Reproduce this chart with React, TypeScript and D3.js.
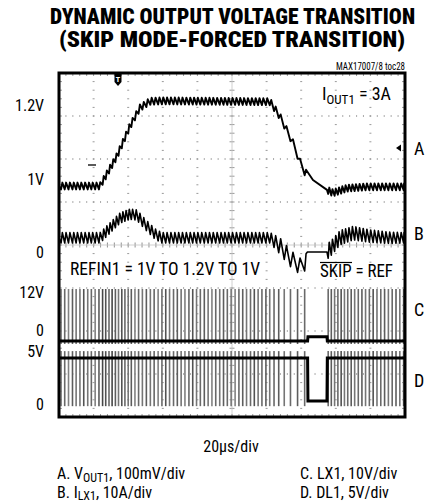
import React from "react";
import * as d3 from "d3";

const NARROW =
  "'Liberation Sans Narrow','Arial Narrow','Roboto Condensed','DejaVu Sans Condensed',sans-serif";

// ---------------- data (read from the scope shot) ----------------
const timeDomainUs = [0, 200]; // 20 µs/div × 10 div

// switching pulse instants (µs)
const pulseTimesUs = [
  1.2, 3.3, 5.5, 7.8, 9.9, 12.1, 14.3, 16.6, 18.7, 20.9, 23.1, 25.2, 27.0, 28.9,
  30.7, 32.6, 34.4, 36.3, 38.1, 40.0, 41.8, 43.9, 46.0, 48.2, 50.5, 52.8, 55.0,
  57.3, 59.5, 61.7, 63.9, 66.2, 68.4, 70.6, 72.8, 75.1, 77.3, 79.5, 81.7, 84.0,
  86.2, 88.4, 90.6, 92.9, 95.1, 97.3, 99.5, 101.8, 104.0, 106.2, 108.4, 110.7,
  112.9, 115.1, 117.3, 119.6, 121.8, 124.3, 127.0, 130.2, 133.8, 137.9, 142.0,
  155.6, 157.4, 159.3, 161.2, 163.1, 165.0, 166.9, 168.9, 170.9, 173.0, 175.1,
  177.2, 179.4, 181.6, 183.8, 186.0, 188.2, 190.4, 192.6, 194.8, 197.0, 199.2,
];
// relative brightness of each pulse line on the screen (0 light … 1 dark)
const pulseShade = [
  0.5, 0.6, 0.4, 0.7, 0.5, 0.5, 0.8, 0.5, 0.6, 0.4, 0.7, 0.9, 0.8, 0.6,
  0.9, 0.7, 0.5, 0.8, 0.6, 0.5, 0.7, 0.4, 0.6, 0.5, 0.7, 0.5, 0.6,
  0.4, 0.6, 0.8, 0.5, 0.6, 0.7, 0.5, 0.4, 0.6, 0.8, 0.5, 0.6, 0.7,
  0.5, 0.4, 0.6, 0.5, 0.7, 0.6, 0.5, 0.4, 0.6, 0.7, 0.5, 0.6,
  0.8, 0.5, 0.6, 0.7, 0.5, 0.6, 0.7, 0.5, 0.6, 0.7, 0.6,
  0.6, 0.7, 0.5, 0.6, 0.8, 0.5, 0.6, 0.7, 0.5, 0.6, 0.7,
  0.5, 0.6, 0.8, 0.5, 0.6, 0.7, 0.5, 0.6, 0.7, 0.5, 0.6,
];

// A: VOUT1 (V)
const voutT = [0, 23.7, 33.4, 41.0, 46.8, 52.6, 60, 122, 127.7, 135.3, 141.0, 146.8, 154.9, 158.4, 166.5, 178, 200];
const voutV = [1.0, 1.0, 1.069, 1.139, 1.182, 1.197, 1.198, 1.196, 1.162, 1.1, 1.037, 1.014, 0.991, 0.984, 0.995, 0.998, 0.998];
const voutRippleV = [0.008];

// B: ILX1 (A)
const ilT = [0, 23.7, 29.5, 35.3, 41.0, 45.0, 49.7, 55.5, 59.5, 122, 127.7, 133.5, 139.3, 142.8, 143.6, 154.9, 158.4, 162.4, 170.0, 179.8, 191.3, 200];
const ilA = [3.3, 3.3, 5.6, 7.9, 8.8, 8.6, 6.5, 4.2, 3.3, 3.3, 1.4, -1.4, -3.3, -2.3, 0, 0, 1.4, 3.3, 4.4, 3.7, 3.3, 3.3];
const ilRippleT = [0, 122, 128, 143, 200];
const ilRippleA = [1.2, 1.2, 1.9, 1.9, 1.2];

// C: LX1 (V) and D: DL1 (V) idle levels
const lxT = [0, 143.7, 143.9, 154.9, 155.1, 200];
const lxV = [0, 0, 1, 1, 0, 0];
const lxPulseHighV = [12.1];
const dlT = [0, 143.7, 143.9, 154.9, 155.1, 200];
const dlV = [5, 5, 0, 0, 5, 5];
const dlPulseLowV = [-0.6];

const triggerTimeUs = [34.1];

const titleLines = ["DYNAMIC OUTPUT VOLTAGE TRANSITION", "(SKIP MODE-FORCED TRANSITION)"];
const leftLabels = ["1.2V", "1V", "0", "12V", "0", "5V", "0"];
const rightLabels = ["A", "B", "C", "D"];

// ---------------- helpers ----------------
function rippleSeries(
  env: (t: number) => number,
  amp: (t: number) => number,
  keys: number[]
): [number, number][] {
  const pts: [number, number][] = [[0, env(0)]];
  for (let i = 0; i < pulseTimesUs.length; i++) {
    const t = pulseTimesUs[i];
    const tn = i + 1 < pulseTimesUs.length ? pulseTimesUs[i + 1] : timeDomainUs[1];
    const dt = tn - t;
    if (dt < 6) {
      const th = t + 0.35 * dt;
      pts.push([t, env(t) - amp(t)]);
      pts.push([th, env(th) + amp(th)]);
    } else {
      pts.push([t, env(t) - amp(t)]);
      pts.push([t + 0.8, env(t + 0.8) + amp(t)]);
      keys.filter((k) => k > t + 0.8 && k < tn).forEach((k) => pts.push([k, env(k)]));
    }
  }
  pts.push([timeDomainUs[1], env(timeDomainUs[1])]);
  return pts;
}

export default function App() {
  const x0 = 59, x1 = 405, y0 = 73, y1 = 417;
  const divW = (x1 - x0) / 10;
  const divH = (y1 - y0) / 8;

  const x = d3.scaleLinear().domain(timeDomainUs).range([x0, x1]);
  const yA = d3.scaleLinear().domain([1.0, 1.2]).range([186, 186 - 2 * divH]);
  const yB = d3.scaleLinear().domain([0, 10]).range([252, 252 - divH]);
  const yC = d3.scaleLinear().domain([0, 10]).range([341, 341 - divH]);
  const yD = d3.scaleLinear().domain([0, 5]).range([401, 401 - divH]);
  const shade = d3.scaleLinear<string>().domain([0, 1]).range(["#b0b0b0", "#3a3a3a"]);

  const envA = d3.scaleLinear().domain(voutT).range(voutV).clamp(true);
  const envB = d3.scaleLinear().domain(ilT).range(ilA).clamp(true);
  const ampB = d3.scaleLinear().domain(ilRippleT).range(ilRippleA).clamp(true);

  const ptsA = rippleSeries((t) => envA(t), () => voutRippleV[0], voutT);
  const ptsB = rippleSeries((t) => envB(t), (t) => ampB(t), ilT);

  const lineA = d3.line<[number, number]>().x((d) => x(d[0])).y((d) => yA(d[1]));
  const lineB = d3.line<[number, number]>().x((d) => x(d[0])).y((d) => yB(d[1]));
  const lineC = d3.line<number>().x((_, i) => x(lxT[i])).y((d) => yC(d));
  const lineD = d3.line<number>().x((_, i) => x(dlT[i])).y((d) => yD(d));

  // graticule
  const grid: JSX.Element[] = [];
  for (let i = 1; i < 10; i++) {
    const gx = x0 + i * divW;
    for (let j = 1; j < 40; j++) {
      const gy = y0 + (j * divH) / 5;
      const center = i === 5;
      grid.push(
        <line key={`v${i}-${j}`} x1={gx - (center ? 2.5 : 1)} x2={gx + (center ? 2.5 : 1)} y1={gy} y2={gy}
          stroke="#9a9a9a" strokeWidth={1} />
      );
    }
    if (i === 5) grid.push(<line key="vc" x1={gx} x2={gx} y1={y0} y2={y1} stroke="#c4c4c4" strokeWidth={0.8} />);
  }
  for (let j = 1; j < 8; j++) {
    const gy = y0 + j * divH;
    for (let i = 1; i < 50; i++) {
      const gx = x0 + (i * divW) / 5;
      const center = j === 4;
      grid.push(
        <line key={`h${j}-${i}`} x1={gx} x2={gx} y1={gy - (center ? 2.5 : 0.8)} y2={gy + (center ? 2.5 : 0.8)}
          stroke="#9a9a9a" strokeWidth={1.1} />
      );
    }
    if (j === 4) grid.push(<line key="hc" x1={x0} x2={x1} y1={gy} y2={gy} stroke="#c4c4c4" strokeWidth={0.8} />);
  }
  for (let i = 1; i < 50; i++) {
    const gx = x0 + (i * divW) / 5;
    grid.push(<line key={`et${i}`} x1={gx} x2={gx} y1={y0} y2={y0 + 3} stroke="#9a9a9a" strokeWidth={1} />);
    grid.push(<line key={`eb${i}`} x1={gx} x2={gx} y1={y1} y2={y1 - 3} stroke="#9a9a9a" strokeWidth={1} />);
  }
  for (let j = 1; j < 40; j++) {
    const gy = y0 + (j * divH) / 5;
    grid.push(<line key={`el${j}`} x1={x0} x2={x0 + 3} y1={gy} y2={gy} stroke="#9a9a9a" strokeWidth={1} />);
    grid.push(<line key={`er${j}`} x1={x1} x2={x1 - 3} y1={gy} y2={gy} stroke="#9a9a9a" strokeWidth={1} />);
  }

  const leftY = [110.5, 185, 258, 298, 336, 357, 410];
  const rightY = [155, 240, 316, 387];
  const tx = x(triggerTimeUs[0]);

  return (
    <svg width={431} height={504} style={{ position: "absolute", left: 0, top: 0, background: "#fff" }}
      fontFamily={NARROW}>
      <rect x={0} y={0} width={431} height={504} fill="#fff" />
      <text x={232.5} y={24} textAnchor="middle" fontSize={22} fontWeight={900} textLength={365}
        lengthAdjust="spacingAndGlyphs">{titleLines[0]}</text>
      <text x={232} y={46.5} textAnchor="middle" fontSize={22} fontWeight={900} textLength={346}
        lengthAdjust="spacingAndGlyphs">{titleLines[1]}</text>
      <text x={405} y={70} textAnchor="end" fontSize={10} textLength={69} lengthAdjust="spacingAndGlyphs">
        MAX17007/8 toc28
      </text>

      {grid}

      {/* C & D switching pulses */}
      <g strokeWidth={1.6}>
        {pulseTimesUs.map((t, i) => (
          <line key={`c${i}`} x1={x(t)} x2={x(t)} y1={yC(-0.7)} y2={yC(lxPulseHighV[0])} stroke={shade(pulseShade[i])} />
        ))}
        {pulseTimesUs.map((t, i) => (
          <line key={`d${i}`} x1={x(t)} x2={x(t)} y1={yD(5.8)} y2={yD(dlPulseLowV[0])} stroke={shade(pulseShade[i])} />
        ))}
      </g>
      <path d={lineC(lxV) || ""} fill="none" stroke="#000" strokeWidth={3} />
      <path d={lineD(dlV) || ""} fill="none" stroke="#000" strokeWidth={3} />

      {/* B and A */}
      <path d={lineB(ptsB) || ""} fill="none" stroke="#000" strokeWidth={1.6} strokeLinejoin="round" />
      <path d={lineA(ptsA) || ""} fill="none" stroke="#000" strokeWidth={1.9} strokeLinejoin="round" />

      {/* markers */}
      <path d={`M${tx - 3.5},${y0 + 1} h7 v8 l-3.5,4 l-3.5,-4 z`} fill="#000" />
      <text x={tx} y={y0 + 8.5} textAnchor="middle" fontSize={8} fontWeight={700} fill="#fff">T</text>
      <line x1={88} x2={96} y1={165} y2={165} stroke="#000" strokeWidth={1.3} />
      <path d="M396,148 L401,144.5 L401,151.5 Z" fill="#000" />

      {/* frame */}
      <rect x={x0} y={y0} width={x1 - x0} height={y1 - y0} fill="none" stroke="#000" strokeWidth={3} />

      {/* annotations */}
      <text x={322} y={100} fontSize={18}>
        I<tspan fontSize={13} dy={4}>OUT1</tspan><tspan dy={-4}> = 3A</tspan>
      </text>
      <text x={70} y={275} fontSize={19} textLength={190} lengthAdjust="spacingAndGlyphs">
        REFIN1 = 1V TO 1.2V TO 1V
      </text>
      <text x={320} y={277} fontSize={18} textLength={73} lengthAdjust="spacingAndGlyphs">
        SKIP = REF
      </text>
      <line x1={320} x2={352} y1={262.5} y2={262.5} stroke="#000" strokeWidth={1.2} />

      {leftLabels.map((l, i) => (
        <text key={`l${i}`} x={44} y={leftY[i]} textAnchor="end" fontSize={16}>{l}</text>
      ))}
      {rightLabels.map((l, i) => (
        <text key={`r${i}`} x={414} y={rightY[i]} fontSize={18}>{l}</text>
      ))}

      <text x={231} y={452} textAnchor="middle" fontSize={16}>20µs/div</text>
      <text x={57} y={479} fontSize={16}>
        A. V<tspan fontSize={12} dy={2.5}>OUT1</tspan><tspan dy={-2.5}>, 100mV/div</tspan>
      </text>
      <text x={57} y={497.5} fontSize={16}>
        B. I<tspan fontSize={12} dy={2.5}>LX1</tspan><tspan dy={-2.5}>, 10A/div</tspan>
      </text>
      <text x={300} y={479} fontSize={16}>C. LX1, 10V/div</text>
      <text x={300} y={497.5} fontSize={16}>D. DL1, 5V/div</text>
    </svg>
  );
}
